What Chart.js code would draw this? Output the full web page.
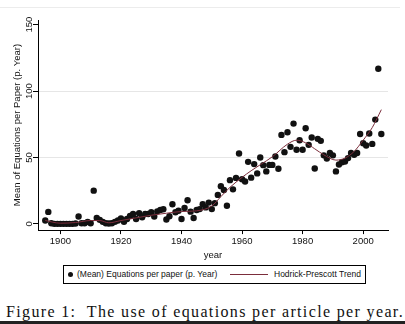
<!DOCTYPE html>
<html>
<head>
<meta charset="utf-8">
<script src="https://cdn.jsdelivr.net/npm/chart.js@4/dist/chart.umd.min.js"></script>
<style>
  html, body { margin: 0; padding: 0; background: #fff; }
  body { width: 405px; height: 324px; position: relative; overflow: hidden; font-family: "Liberation Sans", Arial, sans-serif; }
  #topline { position: absolute; left: 0; top: 7px; width: 400px; height: 1px; background: #ececec; }
  #wrap { position: absolute; left: 0; top: 0; width: 405px; height: 262px; }
  #legend { position: absolute; left: 63px; top: 265px; width: 301px; height: 17px; border: 1px solid #000; font-size: 8.5px; color: #111; }
  #legend .dot { position: absolute; left: 4px; top: 6px; width: 5px; height: 5px; border-radius: 50%; background: #111; }
  #legend .t1 { position: absolute; left: 13px; top: 3px; white-space: nowrap; }
  #legend .ln { position: absolute; left: 166px; top: 8px; width: 38px; height: 1px; background: #7b2d3b; }
  #legend .t2 { position: absolute; left: 210px; top: 3px; white-space: nowrap; }
  #caption { position: absolute; left: 6px; top: 303px; font-family: "Liberation Serif", "DejaVu Serif", serif; font-size: 16px; color: #111; white-space: nowrap; }
  #bottomline { position: absolute; left: 0; top: 321px; width: 405px; height: 3px; background: #222; }
</style>
</head>
<body>
<div id="topline"></div>
<div id="wrap"><canvas id="eqChart" width="405" height="262"></canvas></div>
<div id="legend">
  <span class="dot"></span><span class="t1">(Mean) Equations per paper (p. Year)</span>
  <span class="ln"></span><span class="t2">Hodrick-Prescott Trend</span>
</div>
<div id="caption">Figure 1:&nbsp; The use of equations per article per year.</div>
<div id="bottomline"></div>
<script>
// data
const years = [
  1895, 1896, 1897, 1898, 1899, 1900, 1901, 1902, 1903, 1904,
  1905, 1906, 1907, 1908, 1909, 1910, 1911, 1912, 1913, 1914,
  1915, 1916, 1917, 1918, 1919, 1920, 1921, 1922, 1923, 1924,
  1925, 1926, 1927, 1928, 1929, 1930, 1931, 1932, 1933, 1934,
  1935, 1936, 1937, 1938, 1939, 1940, 1941, 1942, 1943, 1944,
  1945, 1946, 1947, 1948, 1949, 1950, 1951, 1952, 1953, 1954,
  1955, 1956, 1957, 1958, 1959, 1960, 1961, 1962, 1963, 1964,
  1965, 1966, 1967, 1968, 1969, 1970, 1971, 1972, 1973, 1974,
  1975, 1976, 1977, 1978, 1979, 1980, 1981, 1982, 1983, 1984,
  1985, 1986, 1987, 1988, 1989, 1990, 1991, 1992, 1993, 1994,
  1995, 1996, 1997, 1998, 1999, 2000, 2001, 2002, 2003, 2004,
  2005, 2006
];
const meanEquations = [
  2.5, 9, 0.5, 0, 0, 0, 0, 0, 0, 0,
  0.3, 5.5, 0.5, 0.5, 1.5, 0.5, 25, 4.5, 3, 1.5,
  0.5, 0.3, 0.5, 1.5, 2.5, 4, 1.5, 3.7, 6, 7.4,
  3.7, 8, 5, 7.4, 7.4, 8.7, 5.5, 9.4, 10.4, 11,
  3.3, 5.7, 14.8, 8.7, 9.9, 3.7, 11.9, 17.8, 9.2, 4.4,
  10.4, 11.1, 14.8, 12.4, 16, 11.1, 15.6, 21.8, 28.4, 25.5,
  13.6, 32.9, 26, 34.6, 53, 33.6, 31.9, 46.7, 34.8, 45,
  38, 50, 44.2, 39.5, 44.4, 44.4, 50.7, 41.5, 67, 54,
  69, 58, 75.5, 55.8, 63, 55.8, 72, 59.5, 65, 41.7,
  64, 62.5, 51.6, 49.2, 53.4, 51.6, 39.5, 44.7, 46.4, 47,
  49.5, 53.4, 52, 53.4, 67.7, 60.7, 59, 68, 60.2, 78.5,
  116.8, 67.7
];
const trendYears = [1895, 1900, 1905, 1910, 1913, 1916, 1920, 1925, 1930, 1935,
  1940, 1945, 1950, 1953, 1956, 1960, 1963, 1966, 1970, 1975,
  1978, 1981, 1984, 1987, 1991, 1994, 1997, 2000, 2003, 2006];
const trendValues = [2.5, 0.5, 1, 2.5, 2.5, 0.8, 2.5, 4.5, 6.5, 8,
  9.3, 9.8, 13.5, 20.5, 27.5, 35, 40, 44.5, 50.5, 60,
  63, 61, 56.5, 52, 48, 49.5, 54.5, 63, 72.5, 86];
const xTicks = [1900, 1920, 1940, 1960, 1980, 2000];
const yTicks = [0, 50, 100, 150];

const font = { family: '"Liberation Sans", Arial, sans-serif', size: 9.5 };

const ctx = document.getElementById('eqChart').getContext('2d');
const eqChart = new Chart(ctx, {
  type: 'scatter',
  data: {
    datasets: [{
      label: 'Hodrick-Prescott Trend',
      data: trendYears.map((y, i) => ({ x: y, y: trendValues[i] })),
      showLine: true,
      borderColor: '#7b2d3b',
      borderWidth: 1,
      pointRadius: 0,
      cubicInterpolationMode: 'monotone',
      order: 0
    }, {
      label: '(Mean) Equations per paper (p. Year)',
      data: years.map((y, i) => ({ x: y, y: meanEquations[i] })),
      backgroundColor: '#111',
      borderColor: '#111',
      pointRadius: 3.2,
      borderWidth: 0,
      order: 1
    }]
  },
  options: {
    responsive: false,
    animation: false,
    layout: { padding: { left: 9.2, right: 17, top: 20, bottom: 1 } },
    plugins: {
      legend: { display: false },
      tooltip: { enabled: false }
    },
    scales: {
      x: {
        type: 'linear',
        min: 1892.6,
        max: 2008.2,
        afterBuildTicks: axis => { axis.ticks = xTicks.map(v => ({ value: v })); },
        grid: { drawOnChartArea: false, tickLength: 4, tickColor: '#000' },
        border: { color: '#000', width: 1 },
        ticks: { font: { ...font, lineHeight: 1 }, color: '#111', padding: 3, maxRotation: 0, callback: v => String(v) },
        title: { display: true, text: 'year', font: font, color: '#111', padding: { top: 0, bottom: 0 } }
      },
      y: {
        min: -4.7,
        max: 153.5,
        afterBuildTicks: axis => { axis.ticks = yTicks.map(v => ({ value: v })); },
        grid: {
          color: c => (c.tick && (c.tick.value === 50 || c.tick.value === 100)) ? '#e6e6e6' : 'rgba(0,0,0,0)',
          tickLength: 5,
          tickColor: '#000'
        },
        border: { color: '#000', width: 1 },
        ticks: { font: font, color: '#111', minRotation: 90, maxRotation: 90, crossAlign: 'center', padding: -4, callback: v => String(v) },
        title: { display: true, text: 'Mean of Equations per Paper (p. Year)', font: font, color: '#111', padding: { top: 2, bottom: 7 } }
      }
    }
  }
});

// stretch caption to the printed width
const cap = document.getElementById('caption');
const w = cap.getBoundingClientRect().width;
cap.style.letterSpacing = ((398 - w) / cap.textContent.length) + 'px';
</script>
</body>
</html>
